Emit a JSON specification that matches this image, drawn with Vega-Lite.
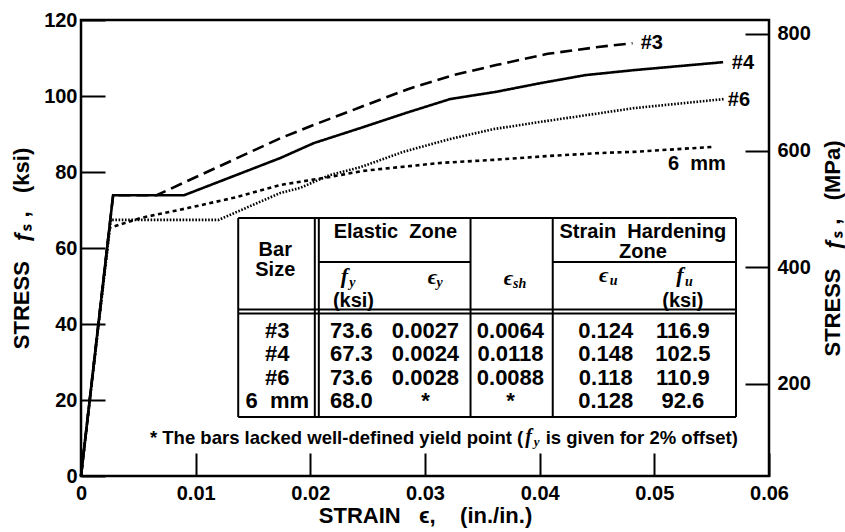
{
  "$schema": "https://vega.github.io/schema/vega-lite/v6.json",
  "width": 688,
  "height": 456,
  "autosize": {"type": "none"},
  "padding": {"left": 81, "top": 20, "right": 76, "bottom": 56},
  "background": "white",
  "config": {
    "view": {"stroke": "black", "strokeWidth": 2.5},
    "font": "Liberation Sans",
    "axis": {
      "grid": false, "domain": false,
      "labelFont": "Liberation Sans", "labelFontWeight": "bold", "labelFontSize": 20, "labelColor": "black",
      "tickColor": "black", "tickWidth": 2,
      "titleFont": "Liberation Sans", "titleFontWeight": "bold", "titleFontSize": 22, "titleColor": "black",
      "labelFlush": false, "labelOverlap": false
    }
  },
  "datasets": {
    "curves": [
      {"series": "#3", "strain": 0, "stress": 0},
      {"series": "#3", "strain": 0.0028, "stress": 73.9},
      {"series": "#3", "strain": 0.0066, "stress": 73.9},
      {"series": "#3", "strain": 0.0104, "stress": 79.2},
      {"series": "#3", "strain": 0.0174, "stress": 88.9},
      {"series": "#3", "strain": 0.0203, "stress": 92.4},
      {"series": "#3", "strain": 0.0244, "stress": 97.1},
      {"series": "#3", "strain": 0.0285, "stress": 101.8},
      {"series": "#3", "strain": 0.0325, "stress": 105.5},
      {"series": "#3", "strain": 0.0363, "stress": 108.2},
      {"series": "#3", "strain": 0.0407, "stress": 111.1},
      {"series": "#3", "strain": 0.0451, "stress": 112.9},
      {"series": "#3", "strain": 0.0481, "stress": 113.9},
      {"series": "#4", "strain": 0, "stress": 0},
      {"series": "#4", "strain": 0.0028, "stress": 73.9},
      {"series": "#4", "strain": 0.0090, "stress": 73.9},
      {"series": "#4", "strain": 0.0174, "stress": 83.7},
      {"series": "#4", "strain": 0.0203, "stress": 87.6},
      {"series": "#4", "strain": 0.0244, "stress": 91.6},
      {"series": "#4", "strain": 0.0283, "stress": 95.5},
      {"series": "#4", "strain": 0.0322, "stress": 99.2},
      {"series": "#4", "strain": 0.0362, "stress": 101.1},
      {"series": "#4", "strain": 0.0401, "stress": 103.4},
      {"series": "#4", "strain": 0.0440, "stress": 105.5},
      {"series": "#4", "strain": 0.0482, "stress": 106.8},
      {"series": "#4", "strain": 0.0560, "stress": 108.9},
      {"series": "#6", "strain": 0, "stress": 0},
      {"series": "#6", "strain": 0.0026, "stress": 67.4},
      {"series": "#6", "strain": 0.0120, "stress": 67.4},
      {"series": "#6", "strain": 0.0174, "stress": 74.5},
      {"series": "#6", "strain": 0.0191, "stress": 75.8},
      {"series": "#6", "strain": 0.0217, "stress": 79.2},
      {"series": "#6", "strain": 0.0244, "stress": 81.3},
      {"series": "#6", "strain": 0.0281, "stress": 85.3},
      {"series": "#6", "strain": 0.0322, "stress": 88.7},
      {"series": "#6", "strain": 0.0360, "stress": 91.3},
      {"series": "#6", "strain": 0.0401, "stress": 93.2},
      {"series": "#6", "strain": 0.0453, "stress": 95.5},
      {"series": "#6", "strain": 0.0482, "stress": 96.8},
      {"series": "#6", "strain": 0.0561, "stress": 99.2},
      {"series": "6 mm", "strain": 0, "stress": 0},
      {"series": "6 mm", "strain": 0.0025, "stress": 65.3},
      {"series": "6 mm", "strain": 0.0052, "stress": 67.9},
      {"series": "6 mm", "strain": 0.0093, "stress": 70.5},
      {"series": "6 mm", "strain": 0.0133, "stress": 73.2},
      {"series": "6 mm", "strain": 0.0174, "stress": 76.6},
      {"series": "6 mm", "strain": 0.0217, "stress": 78.7},
      {"series": "6 mm", "strain": 0.0246, "stress": 80.3},
      {"series": "6 mm", "strain": 0.0314, "stress": 82.4},
      {"series": "6 mm", "strain": 0.0360, "stress": 83.2},
      {"series": "6 mm", "strain": 0.0407, "stress": 84.2},
      {"series": "6 mm", "strain": 0.0453, "stress": 85.0},
      {"series": "6 mm", "strain": 0.0482, "stress": 85.3},
      {"series": "6 mm", "strain": 0.0551, "stress": 86.6}
    ],
    "curveLabels": [
      {"label": "#3", "strain": 0.04978, "stress": 113.95},
      {"label": "#4", "strain": 0.05773, "stress": 108.68},
      {"label": "#6", "strain": 0.05738, "stress": 98.95},
      {"label": "6\u00a0\u00a0mm", "strain": 0.05371, "stress": 82.11}
    ],
    "tableLines": [
      {"strain": 0.01371, "strain2": 0.05712, "stress": 67.89, "stress2": 67.89},
      {"strain": 0.02074, "strain2": 0.03397, "stress": 56.32, "stress2": 56.32},
      {"strain": 0.04114, "strain2": 0.05712, "stress": 56.32, "stress2": 56.32},
      {"strain": 0.01371, "strain2": 0.05712, "stress": 43.82, "stress2": 43.82},
      {"strain": 0.01371, "strain2": 0.05712, "stress": 42.76, "stress2": 42.76},
      {"strain": 0.01371, "strain2": 0.05712, "stress": 15.53, "stress2": 15.53},
      {"strain": 0.01371, "strain2": 0.01371, "stress": 15.53, "stress2": 67.89},
      {"strain": 0.02039, "strain2": 0.02039, "stress": 15.53, "stress2": 67.89},
      {"strain": 0.02074, "strain2": 0.02074, "stress": 15.53, "stress2": 67.89},
      {"strain": 0.03397, "strain2": 0.03397, "stress": 15.53, "stress2": 67.89},
      {"strain": 0.04114, "strain2": 0.04114, "stress": 15.53, "stress2": 67.89},
      {"strain": 0.05712, "strain2": 0.05712, "stress": 15.53, "stress2": 67.89}
    ],
    "headers": [
      {"label": "Bar", "strain": 0.01694, "stress": 59.47},
      {"label": "Size", "strain": 0.01694, "stress": 54.21},
      {"label": "Elastic\u00a0\u00a0Zone", "strain": 0.02742, "stress": 64.21},
      {"label": "Strain\u00a0\u00a0Hardening", "strain": 0.04900, "stress": 64.21},
      {"label": "Zone", "strain": 0.04900, "stress": 58.95},
      {"label": "(ksi)", "strain": 0.02376, "stress": 46.0},
      {"label": "(ksi)", "strain": 0.05249, "stress": 46.0}
    ],
    "symbols": [
      {"label": "f", "strain": 0.02297, "stress": 52.6},
      {"label": "ϵ", "strain": 0.03066, "stress": 52.4},
      {"label": "ϵ", "strain": 0.03729, "stress": 52.1},
      {"label": "ϵ", "strain": 0.04559, "stress": 52.9},
      {"label": "f", "strain": 0.05223, "stress": 53.0}
    ],
    "subscripts": [
      {"label": "y", "strain": 0.02367, "stress": 50.9},
      {"label": "y", "strain": 0.03127, "stress": 50.8},
      {"label": "sh", "strain": 0.03825, "stress": 50.6},
      {"label": "u", "strain": 0.04646, "stress": 51.4},
      {"label": "u", "strain": 0.05301, "stress": 51.1}
    ],
    "cells": [
      {"label": "#3", "strain": 0.01712, "stress": 38.16},
      {"label": "73.6", "strain": 0.02358, "stress": 38.16},
      {"label": "0.0027", "strain": 0.03004, "stress": 38.16},
      {"label": "0.0064", "strain": 0.03745, "stress": 38.16},
      {"label": "0.124", "strain": 0.04576, "stress": 38.16},
      {"label": "116.9", "strain": 0.05249, "stress": 38.16},
      {"label": "#4", "strain": 0.01712, "stress": 32.11},
      {"label": "67.3", "strain": 0.02358, "stress": 32.11},
      {"label": "0.0024", "strain": 0.03004, "stress": 32.11},
      {"label": "0.0118", "strain": 0.03745, "stress": 32.11},
      {"label": "0.148", "strain": 0.04576, "stress": 32.11},
      {"label": "102.5", "strain": 0.05249, "stress": 32.11},
      {"label": "#6", "strain": 0.01712, "stress": 25.92},
      {"label": "73.6", "strain": 0.02358, "stress": 25.92},
      {"label": "0.0028", "strain": 0.03004, "stress": 25.92},
      {"label": "0.0088", "strain": 0.03745, "stress": 25.92},
      {"label": "0.118", "strain": 0.04576, "stress": 25.92},
      {"label": "110.9", "strain": 0.05249, "stress": 25.92},
      {"label": "6\u00a0\u00a0mm", "strain": 0.01712, "stress": 19.74},
      {"label": "68.0", "strain": 0.02358, "stress": 19.74},
      {"label": "*", "strain": 0.03004, "stress": 19.74},
      {"label": "*", "strain": 0.03745, "stress": 19.74},
      {"label": "0.128", "strain": 0.04576, "stress": 19.74},
      {"label": "92.6", "strain": 0.05249, "stress": 19.74}
    ],
    "noteLeft": [{"label": "* The bars lacked well-defined yield point (", "strain": 0.03856, "stress": 10.0}],
    "noteRight": [{"label": "is given for 2% offset)", "strain": 0.04052, "stress": 10.0}],
    "noteF": [{"label": "f", "strain": 0.03904, "stress": 10.2}],
    "noteSub": [{"label": "y", "strain": 0.03974, "stress": 9.0}],
    "mpa": [{"mpa": 200}, {"mpa": 400}, {"mpa": 600}, {"mpa": 800}]
  },
  "resolve": {"scale": {"y": "independent"}},
  "layer": [
    {
      "encoding": {
        "x": {
          "field": "strain", "type": "quantitative",
          "scale": {"domain": [0, 0.06], "nice": false, "zero": false},
          "axis": {
            "title": "STRAIN\u00a0\u00a0\u00a0ϵ,\u00a0\u00a0\u00a0\u00a0(in./in.)",
            "values": [0, 0.01, 0.02, 0.03, 0.04, 0.05, 0.06],
            "labelExpr": "datum.value == 0 ? '0' : format(datum.value, '.2f')",
            "tickSize": -23, "labelPadding": 30, "titlePadding": 2
          }
        },
        "y": {
          "field": "stress", "type": "quantitative",
          "scale": {"domain": [0, 120], "nice": false, "zero": false},
          "axis": {
            "orient": "left",
            "title": "STRESS\u00a0\u00a0\u00a0ƒₛ\u00a0,\u00a0\u00a0\u00a0(ksi)",
            "values": [0, 20, 40, 60, 80, 100, 120],
            "tickSize": -24, "labelPadding": 28, "titlePadding": 10
          }
        }
      },
      "layer": [
        {
          "data": {"name": "curves"},
          "mark": {"type": "line", "color": "black", "strokeWidth": 2.6, "strokeCap": "butt"},
          "encoding": {
            "strokeDash": {
              "field": "series", "type": "nominal",
              "scale": {"domain": ["#3", "#4", "#6", "6 mm"], "range": [[12, 6], [1, 0], [1.6, 1.6], [4, 3.5]]},
              "legend": null
            }
          }
        },
        {
          "data": {"name": "tableLines"},
          "mark": {"type": "rule", "color": "black", "strokeWidth": 2},
          "encoding": {"x2": {"field": "strain2"}, "y2": {"field": "stress2"}}
        },
        {
          "data": {"name": "curveLabels"},
          "mark": {"type": "text", "font": "Liberation Sans", "fontWeight": "bold", "fontSize": 20, "align": "center", "baseline": "middle", "color": "black"},
          "encoding": {"text": {"field": "label"}}
        },
        {
          "data": {"name": "headers"},
          "mark": {"type": "text", "font": "Liberation Sans", "fontWeight": "bold", "fontSize": 20, "align": "center", "baseline": "middle", "color": "black"},
          "encoding": {"text": {"field": "label"}}
        },
        {
          "data": {"name": "cells"},
          "mark": {"type": "text", "font": "Liberation Sans", "fontWeight": "bold", "fontSize": 22, "align": "center", "baseline": "middle", "color": "black"},
          "encoding": {"text": {"field": "label"}}
        },
        {
          "data": {"name": "symbols"},
          "mark": {"type": "text", "font": "Liberation Serif, DejaVu Serif", "fontStyle": "italic", "fontWeight": "bold", "fontSize": 22, "align": "center", "baseline": "middle", "color": "black"},
          "encoding": {"text": {"field": "label"}}
        },
        {
          "data": {"name": "subscripts"},
          "mark": {"type": "text", "font": "Liberation Serif, DejaVu Serif", "fontStyle": "italic", "fontWeight": "bold", "fontSize": 14, "align": "center", "baseline": "middle", "color": "black"},
          "encoding": {"text": {"field": "label"}}
        },
        {
          "data": {"name": "noteLeft"},
          "mark": {"type": "text", "font": "Liberation Sans", "fontWeight": "bold", "fontSize": 18.5, "align": "right", "baseline": "middle", "color": "black"},
          "encoding": {"text": {"field": "label"}}
        },
        {
          "data": {"name": "noteRight"},
          "mark": {"type": "text", "font": "Liberation Sans", "fontWeight": "bold", "fontSize": 18.5, "align": "left", "baseline": "middle", "color": "black"},
          "encoding": {"text": {"field": "label"}}
        },
        {
          "data": {"name": "noteF"},
          "mark": {"type": "text", "font": "Liberation Serif, DejaVu Serif", "fontStyle": "italic", "fontWeight": "bold", "fontSize": 20, "align": "center", "baseline": "middle", "color": "black"},
          "encoding": {"text": {"field": "label"}}
        },
        {
          "data": {"name": "noteSub"},
          "mark": {"type": "text", "font": "Liberation Serif, DejaVu Serif", "fontStyle": "italic", "fontWeight": "bold", "fontSize": 13, "align": "center", "baseline": "middle", "color": "black"},
          "encoding": {"text": {"field": "label"}}
        }
      ]
    },
    {
      "data": {"name": "mpa"},
      "mark": {"type": "point", "opacity": 0},
      "encoding": {
        "y": {
          "field": "mpa", "type": "quantitative",
          "scale": {"domain": [42, 824], "nice": false, "zero": false},
          "axis": {
            "orient": "right",
            "title": "STRESS\u00a0\u00a0\u00a0ƒₛ\u00a0,\u00a0\u00a0\u00a0(MPa)",
            "titleAngle": 270,
            "titleBaseline": "top",
            "values": [200, 400, 600, 800],
            "tickSize": -24, "labelPadding": 32, "titlePadding": 12
          }
        }
      }
    }
  ]
}
